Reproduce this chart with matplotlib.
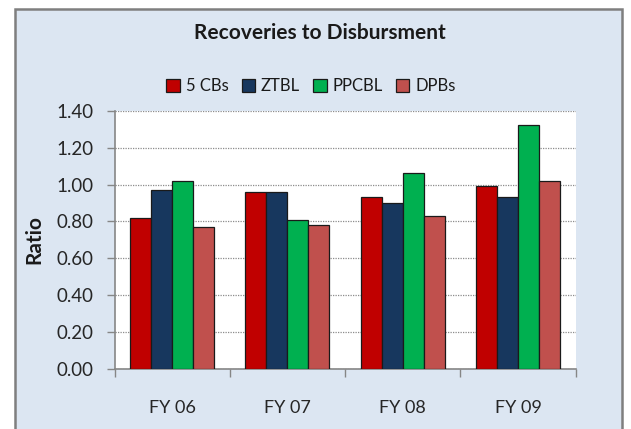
import matplotlib
matplotlib.use("Agg")
import matplotlib.pyplot as plt
import numpy as np
from matplotlib.patches import Rectangle, Patch

categories = ["FY 06", "FY 07", "FY 08", "FY 09"]
series_names = ["5 CBs", "ZTBL", "PPCBL", "DPBs"]
cbs5 = [0.82, 0.96, 0.93, 0.99]
ztbl = [0.97, 0.96, 0.90, 0.93]
ppcbl = [1.02, 0.81, 1.06, 1.32]
dpbs = [0.77, 0.78, 0.83, 1.02]
yticks = [0.0, 0.2, 0.4, 0.6, 0.8, 1.0, 1.2, 1.4]

colors = ["#C00000", "#17375E", "#00B050", "#C0504D"]
bg = "#DCE6F2"

plt.rcParams['font.family'] = ['Lato', 'DejaVu Sans']

fig = plt.figure(figsize=(6.31, 4.29), dpi=100)
fig.patch.set_facecolor("white")
frame = Rectangle((14.5/631, -0.05), (622-14.5)/631, 1 - 8.5/429 + 0.05,
                  transform=fig.transFigure, facecolor=bg,
                  edgecolor="#7F7F7F", linewidth=1.8, zorder=-10)
fig.add_artist(frame)

ax = fig.add_axes([114.5/631, 1-369/429, (575.7-114.5)/631, (369-110.7)/429])
ax.set_zorder(5)
ax.set_facecolor("white")

data = [cbs5, ztbl, ppcbl, dpbs]
x = np.arange(len(categories))
bw = 0.182
offsets = (np.arange(4) - 1.5) * bw
for i, (vals, c, name) in enumerate(zip(data, colors, series_names)):
    ax.bar(x + offsets[i], vals, width=bw, color=c, edgecolor="#1a1a1a",
           linewidth=0.9, label=name, zorder=3)

ax.set_xlim(-0.5, 3.5)
ax.set_ylim(0, 1.4)
ax.set_yticks(yticks)
ax.set_yticklabels([f"{v:.2f}" for v in yticks], fontsize=13.5, color="#262626")
ax.yaxis.grid(True, linestyle=(0, (1, 1)), color="#8C8C8C", linewidth=0.9, zorder=0)
ax.set_axisbelow(True)

ax.set_xticks(np.arange(-0.5, 4, 1.0))
ax.set_xticklabels([])
ax.set_xticks(x, minor=True)
ax.set_xticklabels(categories, minor=True, fontsize=13, color="#262626")
ax.tick_params(axis='x', which='major', direction='out', length=6, color="#868686", width=1)
ax.tick_params(axis='x', which='minor', length=0, pad=22)
ax.tick_params(axis='y', direction='out', length=6, color="#868686", width=1, pad=9)

for s in ["top", "right"]:
    ax.spines[s].set_visible(False)
for s in ["left", "bottom"]:
    ax.spines[s].set_color("#868686")
    ax.spines[s].set_linewidth(1.2)

ax.set_ylabel("Ratio", fontsize=15, fontweight="bold", color="#1a1a1a", labelpad=9)

fig.text(320/631, 1-33/429, "Recoveries to Disbursment", ha="center", va="center",
         fontsize=15, fontweight="bold", color="#1a1a1a")

handles = [Patch(facecolor=c, edgecolor="#1a1a1a", linewidth=0.9, label=n)
           for c, n in zip(colors, series_names)]
fig.legend(handles=handles, loc="center", bbox_to_anchor=(311/631, 1-86/429), ncol=4,
           frameon=False, fontsize=12, handlelength=0.8, handleheight=0.8,
           handletextpad=0.35, columnspacing=0.8, labelcolor="#1a1a1a")

fig.savefig("out.png", dpi=100, facecolor=fig.get_facecolor())
